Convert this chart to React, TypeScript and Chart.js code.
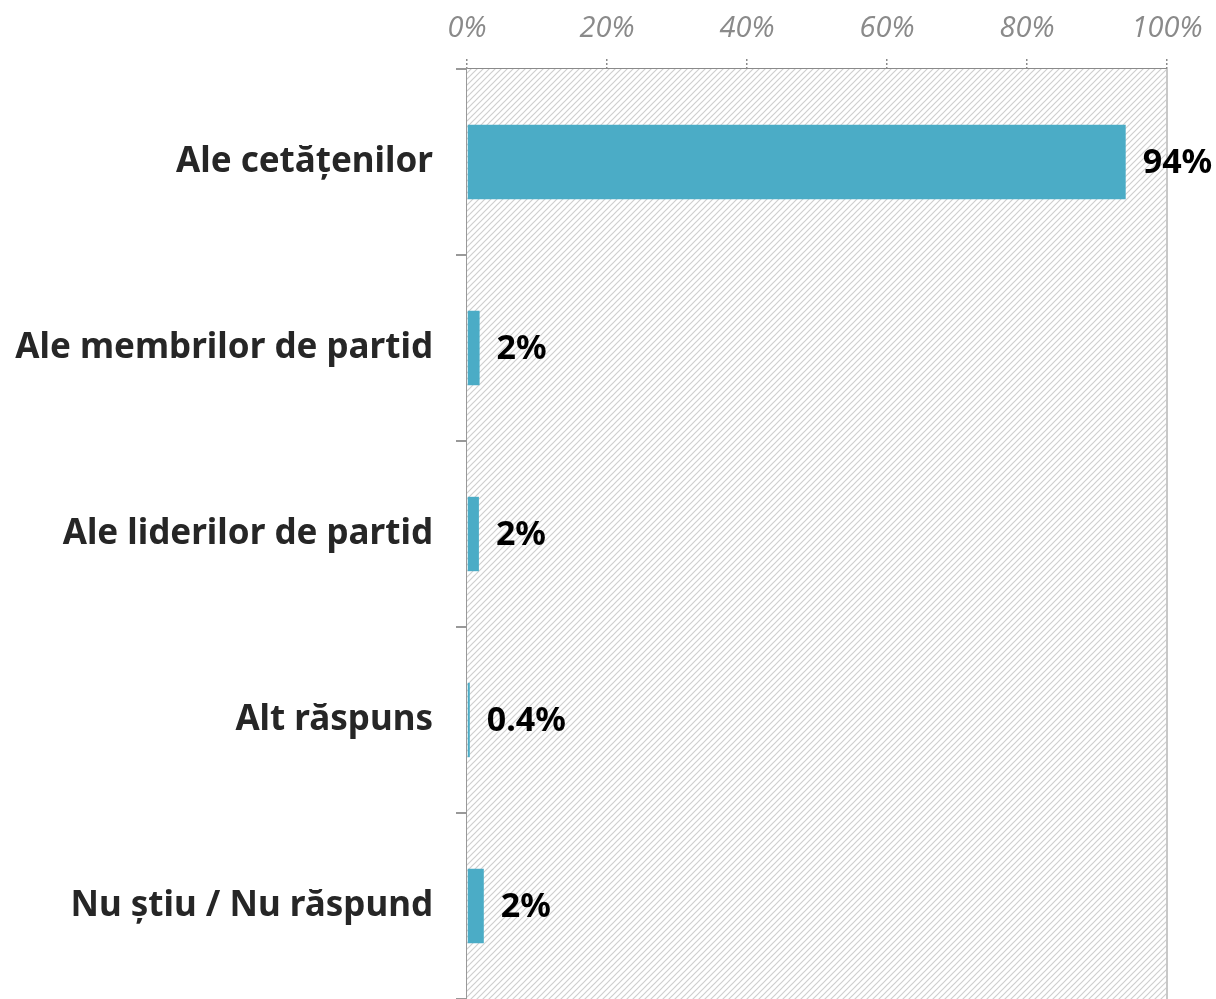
import React, { useEffect, useRef } from "react";
import { Chart, registerables } from "chart.js";

Chart.register(...registerables);

const categories = [
  "Ale cetățenilor",
  "Ale membrilor de partid",
  "Ale liderilor de partid",
  "Alt răspuns",
  "Nu știu / Nu răspund",
];
const values = [94.1, 1.8, 1.7, 0.4, 2.4];
const valueLabels = ["94%", "2%", "2%", "0.4%", "2%"];
const xTicks = [0, 20, 40, 60, 80, 100];

const BAR_COLOR = "#4BACC6";

function makeHatch(): CanvasPattern | string {
  const c = document.createElement("canvas");
  c.width = 6;
  c.height = 6;
  const g = c.getContext("2d");
  if (!g) return "#fff";
  g.fillStyle = "#ffffff";
  g.fillRect(0, 0, 6, 6);
  g.strokeStyle = "#cfcfcf";
  g.lineWidth = 1.2;
  g.beginPath();
  g.moveTo(0, 6);
  g.lineTo(6, 0);
  g.moveTo(-3, 3);
  g.lineTo(3, -3);
  g.moveTo(3, 9);
  g.lineTo(9, 3);
  g.stroke();
  return g.createPattern(c, "repeat") || "#fff";
}

const hatchPlugin = {
  id: "hatchBg",
  beforeDatasetsDraw(chart: any) {
    const { ctx, chartArea } = chart;
    ctx.save();
    ctx.fillStyle = makeHatch();
    ctx.fillRect(
      chartArea.left,
      chartArea.top,
      chartArea.right - chartArea.left,
      chartArea.bottom - chartArea.top
    );
    ctx.strokeStyle = "#c8c8c8";
    ctx.lineWidth = 2;
    ctx.beginPath();
    ctx.moveTo(chartArea.right, chartArea.top);
    ctx.lineTo(chartArea.right, chartArea.bottom);
    ctx.stroke();
    ctx.restore();
  },
};

const labelPlugin = {
  id: "valueLabels",
  afterDatasetsDraw(chart: any) {
    const { ctx } = chart;
    const meta = chart.getDatasetMeta(0);
    ctx.save();
    ctx.font = "bold 34px 'Noto Sans'";
    ctx.fillStyle = "#000000";
    ctx.textAlign = "left";
    ctx.textBaseline = "middle";
    meta.data.forEach((bar: any, i: number) => {
      ctx.fillText(valueLabels[i], bar.x + 17, bar.y + 1);
    });
    ctx.restore();
  },
};

export default function App() {
  const ref = useRef<HTMLCanvasElement | null>(null);

  useEffect(() => {
    if (!ref.current) return;
    const chart = new Chart(ref.current, {
      type: "bar",
      data: {
        labels: categories,
        datasets: [
          {
            data: values,
            backgroundColor: BAR_COLOR,
            borderWidth: 0,
            categoryPercentage: 1,
            barPercentage: 0.4,
          },
        ],
      },
      options: {
        indexAxis: "y",
        animation: false,
        responsive: false,
        layout: { padding: { left: 0, right: 49, top: 0, bottom: 0 } },
        plugins: {
          legend: { display: false },
          tooltip: { enabled: false },
        },
        scales: {
          x: {
            position: "top",
            min: 0,
            max: 100,
            afterBuildTicks(scale: any) {
              scale.ticks = xTicks.map((v) => ({ value: v }));
            },
            afterFit(scale: any) {
              scale.height = 69;
            },
            ticks: {
              callback: (v: any) => v + "%",
              color: "#8a8a8a",
              font: { family: "'Open Sans'", size: 29, style: "italic" },
              padding: 13,
              maxRotation: 0,
            },
            grid: {
              drawOnChartArea: false,
              drawTicks: true,
              tickLength: 10,
              color: "#8a8a8a",
              lineWidth: 1.5,
              tickBorderDash: [2, 2],
            },
            border: { display: true, color: "#8a8a8a", width: 1.5, dash: [2, 2] },
          },
          y: {
            afterFit(scale: any) {
              scale.width = 467;
              scale.paddingTop = 0;
              scale.paddingBottom = -3;
            },
            ticks: {
              color: "#262626",
              font: { family: "'Noto Sans'", size: 35, weight: "bold" },
              padding: 23,
            },
            grid: {
              offset: true,
              drawOnChartArea: false,
              tickLength: 11,
              color: "#999999",
              lineWidth: 2,
            },
            border: { display: true, color: "#999999", width: 2 },
          },
        },
      },
      plugins: [hatchPlugin, labelPlugin],
    });
    return () => chart.destroy();
  }, []);

  return (
    <canvas
      ref={ref}
      width={1216}
      height={999}
      style={{ position: "fixed", left: 0, top: 0, width: 1216, height: 999 }}
    />
  );
}
